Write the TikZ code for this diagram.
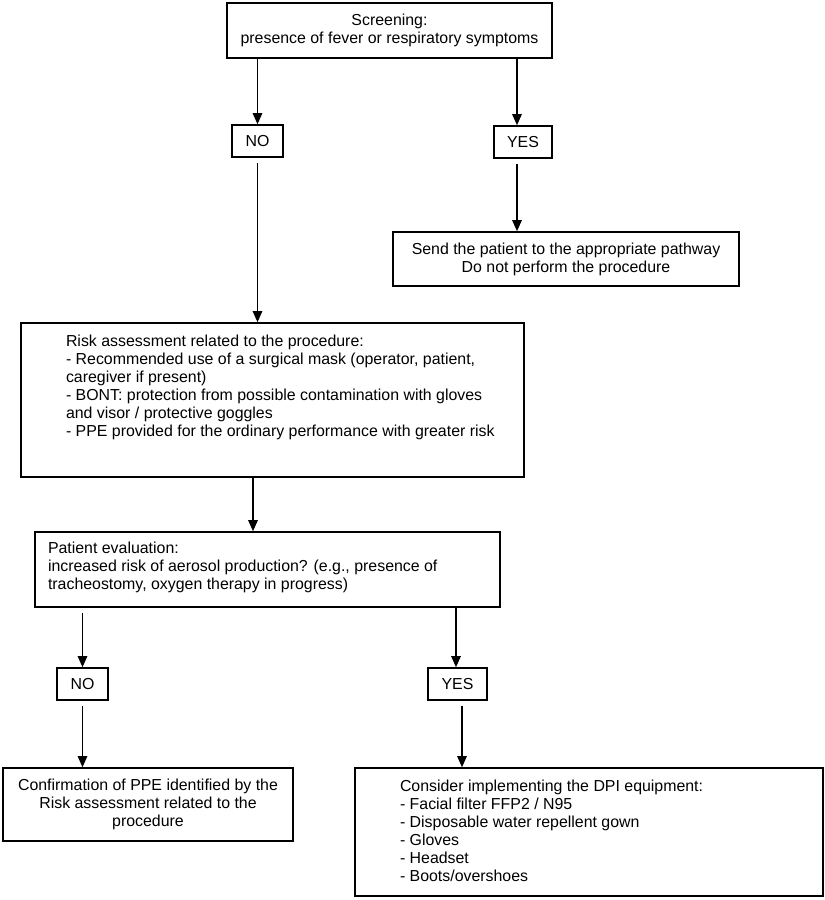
\documentclass[tikz,border=0pt]{standalone}
\usepackage{fontspec}
\setmainfont{Liberation Sans}
\usetikzlibrary{arrows.meta}
\newcommand{\lefttext}[5]{\parbox[c][#2][t]{#1}{\vspace*{#3}\leftskip=#4\relax\rightskip=0pt plus 1fil\relax\parindent=0pt\relax\strut #5\par}}
\begin{document}
\begin{tikzpicture}[x=1pt,y=-1pt,
  box/.style={draw, line width=1.6pt, inner sep=0pt, font=\fontsize{15.9}{18}\selectfont, align=center},
  lbox/.style={draw, line width=1.6pt, inner sep=0pt, font=\fontsize{15.9}{18}\selectfont},
  arr/.style={line width=1.2pt, -{Triangle[width=9.5pt,length=11pt]}}]
\useasboundingbox (0,0) rectangle (825,900);
\node[box, minimum width=325pt, minimum height=55pt] (screen) at (389.5,30.5) {Screening:\\presence of fever or respiratory symptoms};
\node[box, minimum width=51pt, minimum height=32pt] (no1) at (257.5,141) {NO};
\node[box, minimum width=58pt, minimum height=32pt] (yes1) at (523,142) {YES};
\node[box, minimum width=346pt, minimum height=54pt] (send) at (566,259) {Send the patient to the appropriate pathway\\Do not perform the procedure};
\node[lbox] (risk) at (272.5,400) {\lefttext{503pt}{154pt}{10.4pt}{45pt}{Risk assessment related to the procedure:\\- Recommended use of a surgical mask (operator, patient,\\caregiver if present)\\- BONT: protection from possible contamination with gloves\\and visor / protective goggles\\- PPE provided for the ordinary performance with greater risk}};
\node[lbox] (patient) at (267.5,569.5) {\lefttext{465pt}{75pt}{8.4pt}{13pt}{Patient evaluation:\\increased risk of aerosol production? (e.g., presence of\\tracheostomy, oxygen therapy in progress)}};
\node[box, minimum width=51pt, minimum height=32pt] (no2) at (82.5,684) {NO};
\node[box, minimum width=59pt, minimum height=32pt] (yes2) at (457.5,684) {YES};
\node[box, minimum width=290pt, minimum height=73pt] (confirm) at (148,804.5) {Confirmation of PPE identified by the\\Risk assessment related to the\\procedure};
\node[lbox] (dpi) at (589,832) {\lefttext{468pt}{128pt}{10.4pt}{45pt}{Consider implementing the DPI equipment:\\- Facial filter FFP2 / N95\\- Disposable water repellent gown\\- Gloves\\- Headset\\- Boots/overshoes}};
\draw[arr] (no1.north |- screen.south) -- (no1.north);
\draw[arr] ([xshift=-6pt]yes1.north |- screen.south) -- ([xshift=-6pt]yes1.north);
\draw[arr] ([xshift=-6pt,yshift=-5pt]yes1.south) -- ([xshift=-6pt]yes1.south |- send.north);
\draw[arr] ([yshift=-5pt]no1.south) -- (no1.south |- risk.north);
\draw[arr] ([xshift=-19.5pt]risk.south) -- ([xshift=-19.5pt]risk.south |- patient.north);
\draw[arr] ([yshift=-5pt]no2.north |- patient.south) -- (no2.north);
\draw[arr] ([xshift=-1.5pt]yes2.north |- patient.south) -- ([xshift=-1.5pt]yes2.north);
\draw[arr] ([yshift=-5pt]no2.south) -- (no2.south |- confirm.north);
\draw[arr] ([xshift=4.5pt,yshift=-5pt]yes2.south) -- ([xshift=4.5pt]yes2.south |- dpi.north);
\end{tikzpicture}
\end{document}
